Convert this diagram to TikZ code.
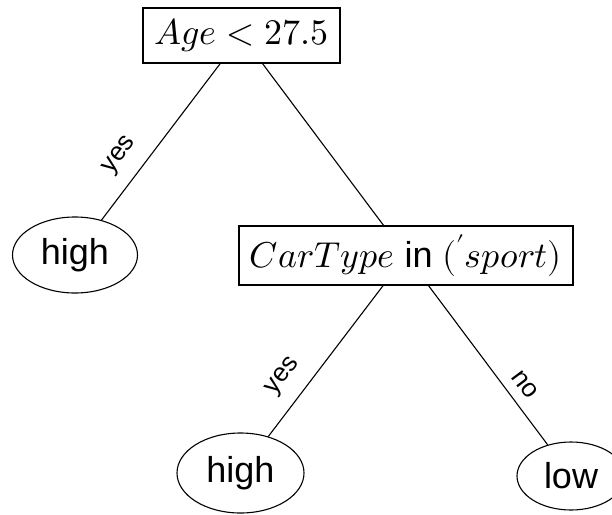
\documentclass[tikz,border=0pt]{standalone}
\usepackage{fontspec}
\usepackage{unicode-math}
\setmainfont{Liberation Sans}
\setmathfont{Latin Modern Math}
\usetikzlibrary{shapes.geometric}
\begin{document}
\begin{tikzpicture}[x=1pt, y=-1pt,
  every node/.style={font=\fontsize{36}{42}\selectfont},
  testbox/.style={draw, line width=1.1pt, rectangle, inner sep=0pt},
  leaf/.style={draw, line width=1.1pt, ellipse, inner sep=0pt},
  edge/.style={line width=1.1pt},
  branch/.style={sloped, above=#1, inner sep=0pt, font=\fontsize{26}{30}\selectfont}]
  \useasboundingbox (0,0) rectangle (612,514);

  % decision nodes
  \node[testbox, minimum width=197pt, minimum height=55pt] (root) at (241.5,35.5) {$Age < 27.5$};
  \node[testbox, minimum width=334pt, minimum height=59pt] (car) at (406,255.5) {$CarType$ in $('sport)$};

  % leaves
  \node[leaf, minimum width=125pt, minimum height=76pt] (high1) at (75,255) {high};
  \node[leaf, minimum width=127pt, minimum height=80pt] (high2) at (240.5,473) {high};
  \node[leaf, minimum width=108pt, minimum height=68pt] (low) at (571,476) {low};

  % branches
  \draw[edge] (root) -- node[branch=14pt, pos=0.68] {yes} (high1);
  \draw[edge] (root) -- (car);
  \draw[edge] (car) -- node[branch=14pt, pos=0.70] {yes} (high2);
  \draw[edge] (car) -- node[branch=10pt, pos=0.69] {no} (low);
\end{tikzpicture}
\end{document}
